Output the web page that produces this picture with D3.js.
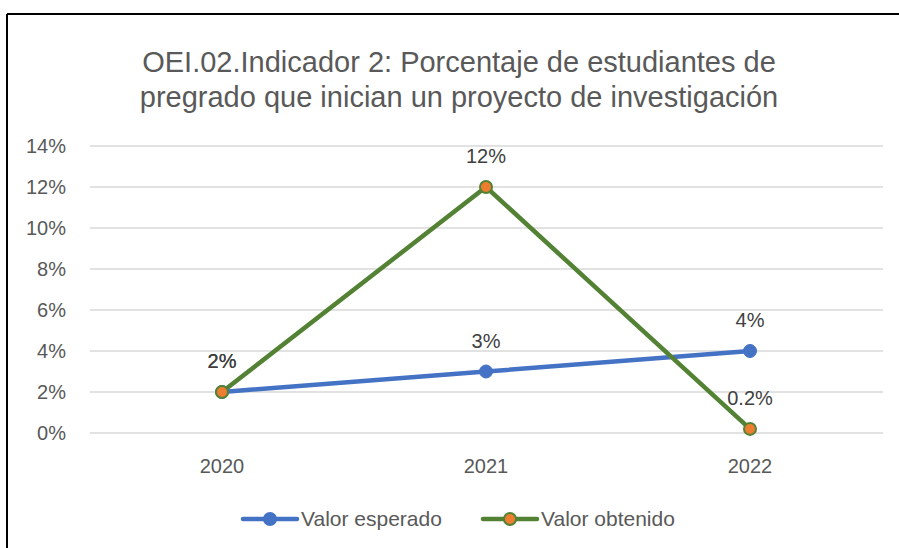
<!DOCTYPE html>
<html>
<head>
<meta charset="utf-8">
<script src="https://cdn.jsdelivr.net/npm/d3@7"></script>
<style>
  body { margin: 0; background: #fff; }
  svg { display: block; font-family: 'Liberation Sans', Arial, sans-serif; }
</style>
</head>
<body>
<svg id="chart" width="899" height="548"></svg>
<script>
let years = ['2020', '2021', '2022'];
let esperado = [0.02, 0.03, 0.04];
let obtenido = [0.02, 0.12, 0.002];
let esperadoLabels = ['2%', '3%', '4%'];
let obtenidoLabels = ['2%', '12%', '0.2%'];
let yTicks = [0, 0.02, 0.04, 0.06, 0.08, 0.1, 0.12, 0.14];
let titleLines = ['OEI.02.Indicador 2: Porcentaje de estudiantes de', 'pregrado que inician un proyecto de investigación'];

let svg = d3.select('#chart');
let grey = '#595959';
let blue = '#4472C4', green = '#548235', orange = '#ED7D31';

// frame of the chart area
svg.append('line').attr('x1', 7).attr('x2', 899).attr('y1', 14).attr('y2', 14).attr('stroke', '#000').attr('stroke-width', 2);
svg.append('line').attr('x1', 7).attr('x2', 7).attr('y1', 14).attr('y2', 548).attr('stroke', '#000').attr('stroke-width', 2);

svg.selectAll('.title').data(titleLines).enter().append('text')
  .attr('x', 459).attr('y', (d, i) => 72 + i * 35)
  .attr('text-anchor', 'middle').attr('fill', grey).attr('font-size', 29)
  .text(d => d);

let x = d3.scaleBand().domain(years).range([90, 882]);
let y = d3.scaleLinear().domain([0, 0.14]).range([433, 146]);
let cx = d => x(d) + x.bandwidth() / 2;

let grid = svg.append('g');
grid.selectAll('line').data(yTicks).enter().append('line')
  .attr('x1', 90).attr('x2', 883)
  .attr('y1', d => y(d)).attr('y2', d => y(d))
  .attr('stroke', '#d9d9d9').attr('stroke-width', 1.5);

let yAxis = svg.append('g').attr('transform', 'translate(90,0)')
  .call(d3.axisLeft(y).tickValues(yTicks).tickFormat(d3.format('.0%')).tickSize(0).tickPadding(24));
yAxis.select('.domain').remove();
yAxis.selectAll('text').attr('fill', grey).attr('font-size', 20).attr('font-family', 'Liberation Sans, Arial, sans-serif');

let xAxis = svg.append('g').attr('transform', 'translate(0,433)')
  .call(d3.axisBottom(x).tickSize(0).tickPadding(26));
xAxis.select('.domain').remove();
xAxis.selectAll('text').attr('fill', grey).attr('font-size', 20).attr('font-family', 'Liberation Sans, Arial, sans-serif');

let line = d3.line().x((d, i) => cx(years[i])).y(d => y(d));

svg.append('path').datum(esperado).attr('d', line)
  .attr('fill', 'none').attr('stroke', blue).attr('stroke-width', 4.5).attr('stroke-linecap', 'round');
svg.append('path').datum(obtenido).attr('d', line)
  .attr('fill', 'none').attr('stroke', green).attr('stroke-width', 4.5).attr('stroke-linecap', 'round');

svg.selectAll('.mb').data(esperado).enter().append('circle')
  .attr('cx', (d, i) => cx(years[i])).attr('cy', d => y(d)).attr('r', 6.5)
  .attr('fill', blue).attr('stroke', blue).attr('stroke-width', 1);
svg.selectAll('.mo').data(obtenido).enter().append('circle')
  .attr('cx', (d, i) => cx(years[i])).attr('cy', d => y(d)).attr('r', 6)
  .attr('fill', orange).attr('stroke', green).attr('stroke-width', 2);

svg.selectAll('.lb').data(esperado).enter().append('text')
  .attr('x', (d, i) => cx(years[i])).attr('y', d => y(d) - 24)
  .attr('text-anchor', 'middle').attr('fill', '#404040').attr('font-size', 20)
  .text((d, i) => esperadoLabels[i]);
svg.selectAll('.lo').data(obtenido).enter().append('text')
  .attr('x', (d, i) => cx(years[i])).attr('y', d => y(d) - 24)
  .attr('text-anchor', 'middle').attr('fill', '#404040').attr('font-size', 20)
  .text((d, i) => obtenidoLabels[i]);

// legend
let legend = [{name: 'Valor esperado', line: blue, fill: blue, x: 243}, {name: 'Valor obtenido', line: green, fill: orange, x: 483}];
let lg = svg.selectAll('.lg').data(legend).enter().append('g').attr('transform', d => `translate(${d.x},519)`);
lg.append('line').attr('x1', 0).attr('x2', 54).attr('stroke', d => d.line).attr('stroke-width', 4.5).attr('stroke-linecap', 'round');
lg.append('circle').attr('cx', 27).attr('r', 6).attr('fill', d => d.fill).attr('stroke', d => d.line).attr('stroke-width', 2);
lg.append('text').attr('x', 58).attr('y', 7).attr('fill', grey).attr('font-size', 21).text(d => d.name);
</script>
</body>
</html>
